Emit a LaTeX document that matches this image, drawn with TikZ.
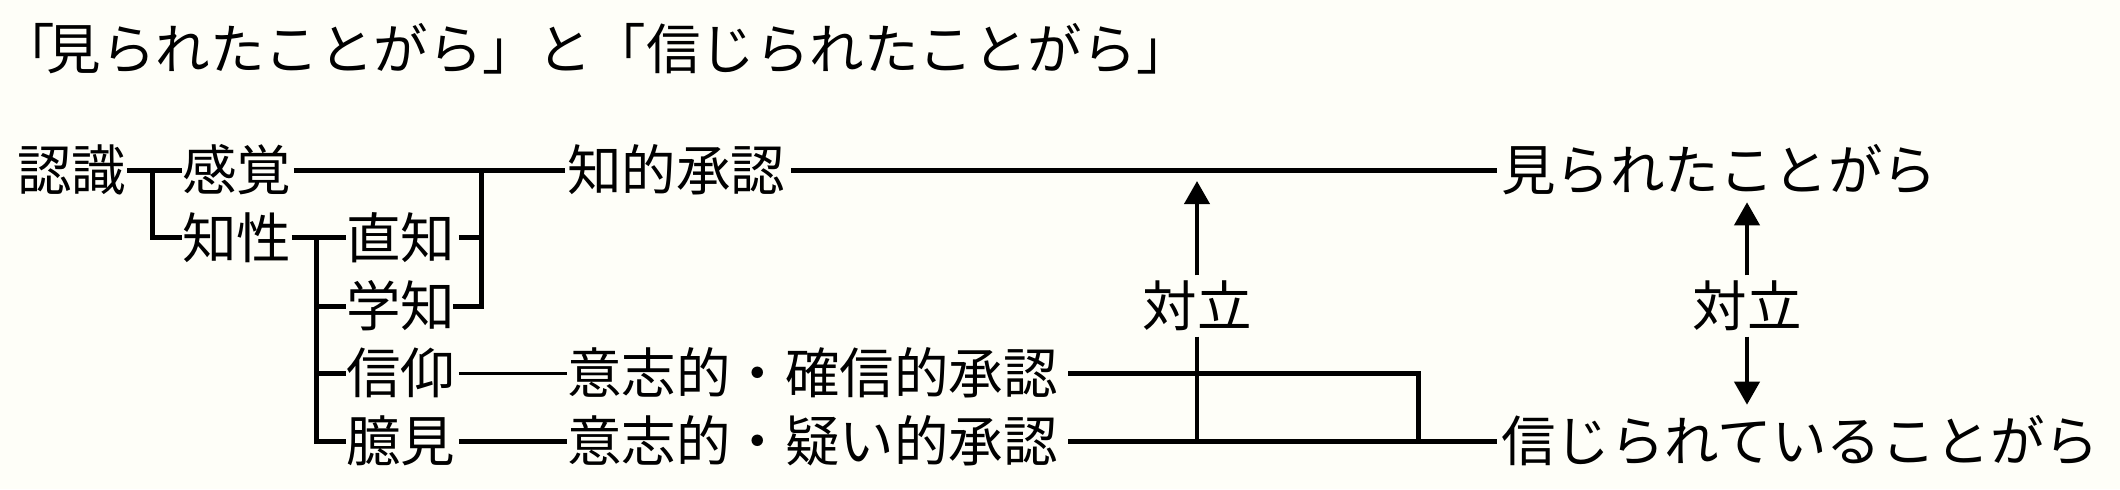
\documentclass[tikz,border=0pt]{standalone}
\usepackage{fontspec}
\newfontfamily\jp{Noto Sans CJK JP}
\usetikzlibrary{arrows.meta}
\definecolor{bg}{RGB}{254,254,248}
\begin{document}
\begin{tikzpicture}[x=0.5pt,y=-0.5pt,
  lbl/.style={font=\jp\fontsize{27.25pt}{30pt}\selectfont, inner sep=0pt, text height=24pt, text depth=3.3pt, anchor=west},
  ln/.style={line width=2.5pt},
  thinln/.style={line width=1.5pt},
  shaft/.style={line width=2pt},
  arr/.style={line width=2pt, -{Triangle[length=11.5pt,width=12.5pt]}}]
\fill[bg] (0,0) rectangle (2120,489);
\useasboundingbox (0,0) rectangle (2120,489);
% title
\node[lbl, anchor=base west] (title) at (0,69.5) {「\kern-4pt 見られたことがら」と「信じられたことがら」};
% nodes
\node[lbl] (nin) at (17,170) {認識};
\node[lbl] (kan) at (182,170) {感覚};
\node[lbl] (chisei) at (182,237.5) {知性};
\node[lbl] (choku) at (346,237.5) {直知};
\node[lbl] (gaku) at (346,306) {学知};
\node[lbl] (shinko) at (346,373) {信仰};
\node[lbl] (okken) at (346,441) {臆見};
\node[lbl] (chiteki) at (567,170) {知的承認};
\node[lbl] (ishi1) at (567,373) {意志的・確信的承認};
\node[lbl] (ishi2) at (567,441) {意志的・疑い的承認};
\node[lbl] (mira) at (1501,170) {見られたことがら};
\node[lbl] (shin) at (1501,441) {信じられていることがら};
\node[lbl, anchor=center, inner ysep=1.5pt] (taiA) at (1197,306) {対立};
\node[lbl, anchor=center, inner ysep=1.5pt] (taiB) at (1747,306) {対立};
% junction coordinates
\coordinate (j1) at (152,170);
\coordinate (j2) at (481,170);
\coordinate (j3) at (316,237.5);
\coordinate (c1) at (1418,441);
% connectors
\draw[ln] (nin.east) -- (kan.west);
\draw[ln] (j1) |- (chisei.west);
\draw[ln, shorten <=1pt, shorten >=1pt] (kan.east) -- (chiteki.west);
\draw[ln, shorten <=1.5pt] (choku.east) -- (choku.east -| j2);
\draw[ln, shorten >=-1.5pt] (j2) |- (gaku.east);
\draw[ln] (chisei.east) -- (choku.west);
\draw[ln] (j3) |- (okken.west);
\draw[ln] (j3 |- gaku.west) -- (gaku.west);
\draw[ln] (j3 |- shinko.west) -- (shinko.west);
\draw[thinln, shorten <=1.5pt] (shinko.east) -- (ishi1.west);
\draw[ln, shorten <=1.5pt] (okken.east) -- (ishi2.west);
\draw[ln, shorten <=5pt] (ishi1.east) -| (c1);
\draw[ln, shorten <=5pt, shorten >=2pt] (ishi2.east) -- (shin.west);
\draw[ln, shorten <=2.5pt, shorten >=2pt] (chiteki.east) -- (mira.west);
\draw[shaft] (taiA.south) -- (taiA.south |- ishi2.east);
\draw[arr, shorten >=5.5pt] (taiA.north) -- (taiA.north |- chiteki.east);
\draw[arr, shorten >=2.3pt] (taiB.north) -- (taiB.north |- mira.south);
\draw[arr, shorten >=4.3pt] (taiB.south) -- (taiB.south |- shin.north);
\end{tikzpicture}
\end{document}
